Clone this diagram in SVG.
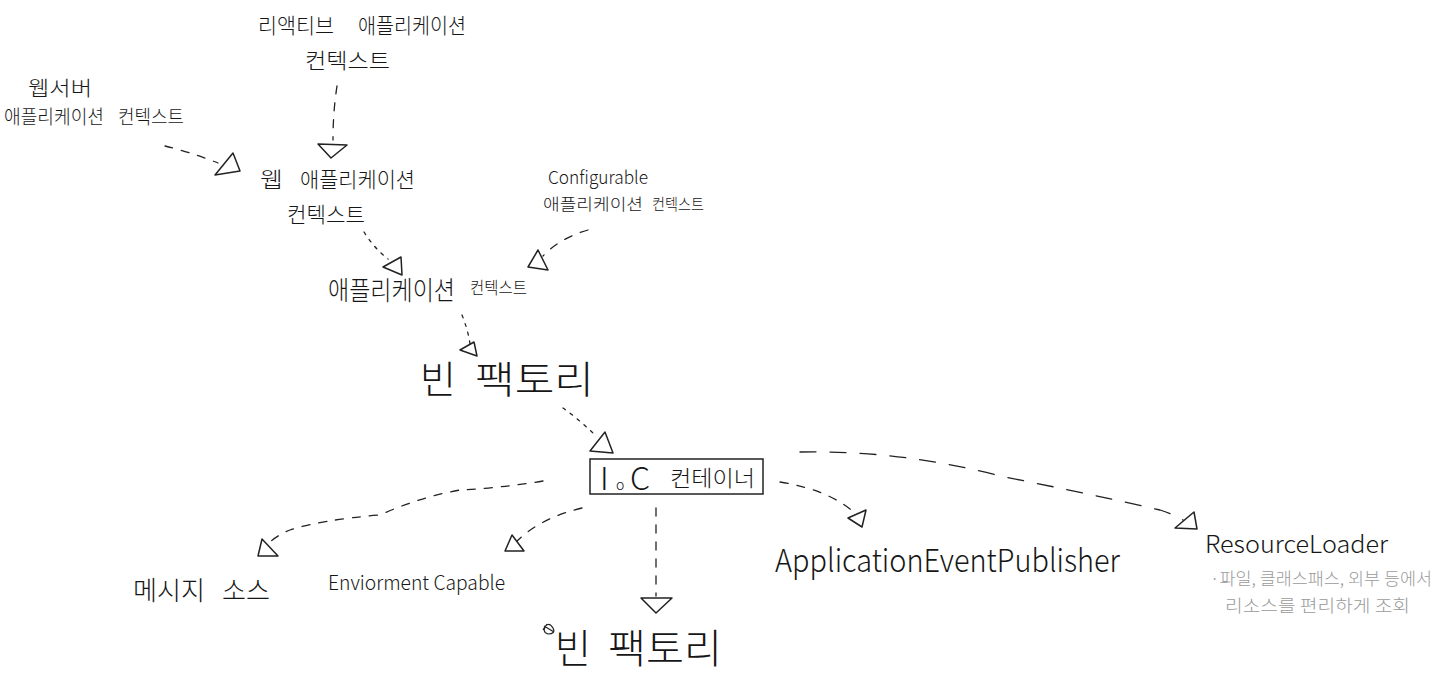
<svg xmlns="http://www.w3.org/2000/svg" width="1440" height="682" viewBox="0 0 1440 682">
<style>
  text { font-family: "Noto Sans CJK KR", "Noto Sans", "Liberation Sans", sans-serif; fill: #161616; font-weight: 300; }
  .grey { fill: #9a9a9a; }
  .c { fill: none; stroke: #222; stroke-width: 1.3; stroke-linecap: round; }
  .dot { stroke-dasharray: 3 6; }
  .dash { stroke-dasharray: 8 9; }
  .long { stroke-dasharray: 16 14; }
  .tri { fill: #fff; stroke: #222; stroke-width: 1.5; stroke-linejoin: round; }
  .box { fill: #fff; stroke: #222; stroke-width: 1.5; }
</style>
<rect width="1440" height="682" fill="#fff"/>

<g id="connectors">
  <path class="c dash" d="M165,146 Q190,152 218,163"/>
  <polygon class="tri" points="215,175 233,153 240,171"/>
  <path class="c dash" d="M337,86 Q333,112 333,140"/>
  <polygon class="tri" points="318,144 347,145 331,158"/>
  <path class="c dot" d="M364,232 Q374,248 388,259"/>
  <polygon class="tri" points="383,267 401,257 402,275"/>
  <path class="c dash" d="M588,230 Q560,238 543,256"/>
  <polygon class="tri" points="528,267 538,250 548,270"/>
  <path class="c dot" d="M462,315 Q468,330 470,344"/>
  <polygon class="tri" points="460,350 474,342 477,356"/>
  <path class="c dot" d="M563,408 Q580,420 597,437"/>
  <polygon class="tri" points="590,451 605,432 613,453"/>
  <path class="c dash" d="M543,481 Q500,488 460,490 Q420,497 380,515 Q320,520 290,530 Q278,535 270,542"/>
  <polygon class="tri" points="262,539 258,556 278,556"/>
  <path class="c dash" d="M582,508 Q540,518 516,542"/>
  <polygon class="tri" points="512,535 505,551 524,551"/>
  <path class="c dash" d="M656,508 L656,596"/>
  <polygon class="tri" points="641,598 672,598 656,613"/>
  <path class="c dash" d="M780,482 Q830,490 856,514"/>
  <polygon class="tri" points="848,518 866,510 862,527"/>
  <path class="c long" d="M800,452 Q900,450 1000,476 Q1100,496 1160,510 Q1176,515 1186,522"/>
  <polygon class="tri" points="1175,528 1194,512 1197,529"/>
</g>

<g id="reactive-app-context">
  <text y="33" font-size="21"><tspan x="258" textLength="76" lengthAdjust="spacingAndGlyphs">리액티브</tspan><tspan x="358" textLength="108" lengthAdjust="spacingAndGlyphs">애플리케이션</tspan></text>
  <text x="305" y="68" font-size="21" textLength="85" lengthAdjust="spacingAndGlyphs">컨텍스트</text>
</g>

<g id="webserver-app-context">
  <text x="28" y="96" font-size="20" textLength="64" lengthAdjust="spacingAndGlyphs">웹서버</text>
  <text y="124" font-size="19"><tspan x="4" textLength="100" lengthAdjust="spacingAndGlyphs">애플리케이션</tspan><tspan x="118" textLength="66" lengthAdjust="spacingAndGlyphs">컨텍스트</tspan></text>
</g>

<g id="web-app-context">
  <text y="187" font-size="21"><tspan x="260" textLength="23" lengthAdjust="spacingAndGlyphs">웹</tspan><tspan x="300" textLength="115" lengthAdjust="spacingAndGlyphs">애플리케이션</tspan></text>
  <text x="287" y="222" font-size="21" textLength="78" lengthAdjust="spacingAndGlyphs">컨텍스트</text>
</g>

<g id="configurable-app-context">
  <text x="548" y="184" font-size="18" textLength="100" lengthAdjust="spacingAndGlyphs">Configurable</text>
  <text y="210" font-size="16"><tspan x="543" textLength="100" lengthAdjust="spacingAndGlyphs">애플리케이션</tspan><tspan x="652" textLength="52" lengthAdjust="spacingAndGlyphs">컨텍스트</tspan></text>
</g>

<g id="app-context">
  <text x="328" y="300" font-size="26" textLength="127" lengthAdjust="spacingAndGlyphs">애플리케이션</text>
  <text x="470" y="294" font-size="17" textLength="57" lengthAdjust="spacingAndGlyphs">컨텍스트</text>
</g>

<g id="bean-factory-top">
  <text y="393" font-size="38"><tspan x="420" textLength="36" lengthAdjust="spacingAndGlyphs">빈</tspan><tspan x="475" textLength="119" lengthAdjust="spacingAndGlyphs">팩토리</tspan></text>
</g>

<g id="ioc-container">
  <rect class="box" x="590" y="459" width="173" height="35"/>
  <text y="490"><tspan x="600" font-size="32">I</tspan><tspan x="616" font-size="14">o</tspan><tspan x="630" font-size="32">C</tspan></text>
  <text x="670" y="486" font-size="22" textLength="85" lengthAdjust="spacingAndGlyphs">컨테이너</text>
</g>

<g id="message-source">
  <text y="600" font-size="26"><tspan x="133" textLength="72" lengthAdjust="spacingAndGlyphs">메시지</tspan><tspan x="222" textLength="48" lengthAdjust="spacingAndGlyphs">소스</tspan></text>
</g>

<g id="environment-capable">
  <text x="328" y="590" font-size="20" textLength="177" lengthAdjust="spacingAndGlyphs">Enviorment Capable</text>
</g>

<g id="bean-factory-bottom">
  <path d="M543,630 Q548,620 553,628 Q556,634 548,634 Q541,632 547,624 M544,626 L554,632" fill="none" stroke="#222" stroke-width="1.2"/>
  <text y="663" font-size="40"><tspan x="555" textLength="36" lengthAdjust="spacingAndGlyphs">빈</tspan><tspan x="608" textLength="114" lengthAdjust="spacingAndGlyphs">팩토리</tspan></text>
</g>

<g id="app-event-publisher">
  <text x="775" y="572" font-size="32" textLength="345" lengthAdjust="spacingAndGlyphs">ApplicationEventPublisher</text>
</g>

<g id="resource-loader">
  <text x="1205" y="553" font-size="24" textLength="183" lengthAdjust="spacingAndGlyphs">ResourceLoader</text>
  <text class="grey" x="1210" y="585" font-size="17" textLength="222" lengthAdjust="spacingAndGlyphs">·파일, 클래스패스, 외부 등에서</text>
  <text class="grey" x="1225" y="612" font-size="17" textLength="185" lengthAdjust="spacingAndGlyphs">리소스를 편리하게 조회</text>
</g>
</svg>
